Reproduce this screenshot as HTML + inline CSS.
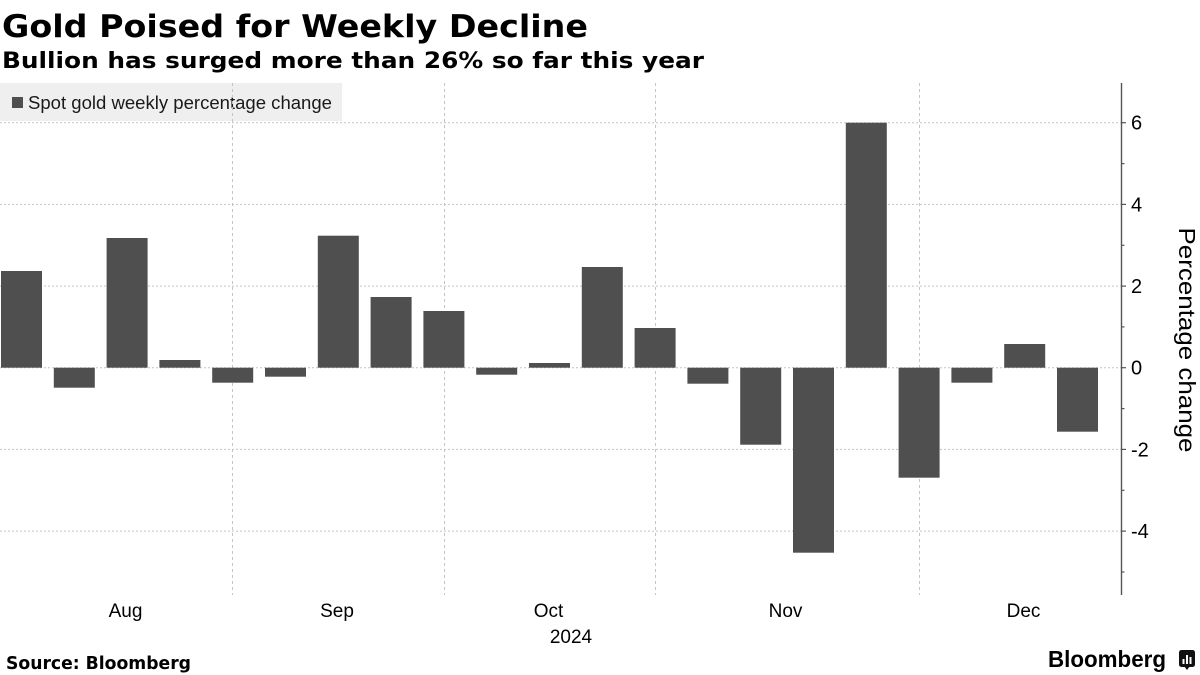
<!DOCTYPE html>
<html>
<head>
<meta charset="utf-8">
<style>
  html, body { margin: 0; padding: 0; background: #fff; }
  svg { display: block; }
</style>
</head>
<body>
<svg width="1200" height="675" viewBox="0 0 1200 675" xmlns="http://www.w3.org/2000/svg">
  <rect x="0" y="0" width="1200" height="675" fill="#ffffff"/>

  <!-- Title & subtitle -->
  <text x="2" y="37" font-family="'DejaVu Sans', 'Liberation Sans', sans-serif" font-weight="bold" font-size="31" fill="#000" textLength="586" lengthAdjust="spacingAndGlyphs">Gold Poised for Weekly Decline</text>
  <text x="2" y="68" font-family="'DejaVu Sans', 'Liberation Sans', sans-serif" font-weight="bold" font-size="22" fill="#000" textLength="702" lengthAdjust="spacingAndGlyphs">Bullion has surged more than 26% so far this year</text>

  <!-- Legend -->
  <rect x="0" y="83" width="342" height="38" fill="#efefef"/>
  <rect x="12" y="97" width="11" height="11" fill="#4f4f4f"/>
  <text x="28" y="109" font-family="'Liberation Sans', sans-serif" font-size="18" fill="#1a1a1a" textLength="304" lengthAdjust="spacingAndGlyphs">Spot gold weekly percentage change</text>

  <!-- Horizontal grid -->
  <g stroke="#c4c4c4" stroke-width="1" stroke-dasharray="2,2">
    <line x1="0" y1="122.7" x2="1121" y2="122.7"/>
    <line x1="0" y1="204.4" x2="1121" y2="204.4"/>
    <line x1="0" y1="286.1" x2="1121" y2="286.1"/>
    <line x1="0" y1="367.7" x2="1121" y2="367.7"/>
    <line x1="0" y1="449.4" x2="1121" y2="449.4"/>
    <line x1="0" y1="531.1" x2="1121" y2="531.1"/>
  </g>
  <!-- Vertical grid -->
  <g stroke="#c4c4c4" stroke-width="1" stroke-dasharray="3,3">
    <line x1="232.5" y1="83" x2="232.5" y2="595"/>
    <line x1="444.5" y1="83" x2="444.5" y2="595"/>
    <line x1="655.5" y1="83" x2="655.5" y2="595"/>
    <line x1="919.5" y1="83" x2="919.5" y2="595"/>
  </g>

  <!-- Bars -->
  <g fill="#4f4f4f">
    <rect x="1" y="271" width="41" height="96.7"/>
    <rect x="53.8" y="367.7" width="41" height="20"/>
    <rect x="106.6" y="238" width="41" height="129.7"/>
    <rect x="159.4" y="360" width="41" height="7.7"/>
    <rect x="212.2" y="367.7" width="41" height="15"/>
    <rect x="265" y="367.7" width="41" height="9"/>
    <rect x="317.8" y="235.7" width="41" height="132"/>
    <rect x="370.6" y="297" width="41" height="70.7"/>
    <rect x="423.4" y="311" width="41" height="56.7"/>
    <rect x="476.2" y="367.7" width="41" height="7"/>
    <rect x="529" y="363" width="41" height="4.7"/>
    <rect x="581.8" y="267" width="41" height="100.7"/>
    <rect x="634.6" y="328" width="41" height="39.7"/>
    <rect x="687.4" y="367.7" width="41" height="16"/>
    <rect x="740.2" y="367.7" width="41" height="77"/>
    <rect x="793" y="367.7" width="41" height="185"/>
    <rect x="845.8" y="122.7" width="41" height="245"/>
    <rect x="898.6" y="367.7" width="41" height="110"/>
    <rect x="951.4" y="367.7" width="41" height="15"/>
    <rect x="1004.2" y="344" width="41" height="23.7"/>
    <rect x="1057" y="367.7" width="41" height="64"/>
  </g>

  <!-- Right axis -->
  <line x1="1121.5" y1="83" x2="1121.5" y2="595" stroke="#555" stroke-width="1.4"/>
  <g stroke="#555" stroke-width="1.2">
    <line x1="1121" y1="122.7" x2="1126" y2="122.7"/>
    <line x1="1121" y1="204.4" x2="1126" y2="204.4"/>
    <line x1="1121" y1="286.1" x2="1126" y2="286.1"/>
    <line x1="1121" y1="367.7" x2="1126" y2="367.7"/>
    <line x1="1121" y1="449.4" x2="1126" y2="449.4"/>
    <line x1="1121" y1="531.1" x2="1126" y2="531.1"/>
    <line x1="1121" y1="163.6" x2="1124.5" y2="163.6"/>
    <line x1="1121" y1="245.3" x2="1124.5" y2="245.3"/>
    <line x1="1121" y1="326.9" x2="1124.5" y2="326.9"/>
    <line x1="1121" y1="408.6" x2="1124.5" y2="408.6"/>
    <line x1="1121" y1="490.3" x2="1124.5" y2="490.3"/>
    <line x1="1121" y1="572" x2="1124.5" y2="572"/>
  </g>
  <g font-family="'Liberation Sans', sans-serif" font-size="20" fill="#000">
    <text x="1131" y="129.7">6</text>
    <text x="1131" y="211.4">4</text>
    <text x="1131" y="293.1">2</text>
    <text x="1131" y="374.7">0</text>
    <text x="1131" y="456.4">-2</text>
    <text x="1131" y="538.1">-4</text>
  </g>
  <text transform="translate(1179,340) rotate(90)" x="0" y="0" text-anchor="middle" font-family="'Liberation Sans', sans-serif" font-size="23" fill="#000" textLength="225" lengthAdjust="spacingAndGlyphs">Percentage change</text>

  <!-- X labels -->
  <g font-family="'Liberation Sans', sans-serif" font-size="19" fill="#000" text-anchor="middle">
    <text x="125.5" y="617">Aug</text>
    <text x="337" y="617">Sep</text>
    <text x="548.5" y="617">Oct</text>
    <text x="785.5" y="617">Nov</text>
    <text x="1023.5" y="617">Dec</text>
    <text x="571" y="643">2024</text>
  </g>

  <!-- Footer -->
  <text x="6" y="669" font-family="'DejaVu Sans', 'Liberation Sans', sans-serif" font-weight="bold" font-size="18" fill="#000" textLength="185" lengthAdjust="spacingAndGlyphs">Source: Bloomberg</text>
  <text x="1048" y="667" font-family="'Liberation Sans', sans-serif" font-weight="bold" font-size="23" fill="#000" textLength="118" lengthAdjust="spacingAndGlyphs">Bloomberg</text>
  <g>
    <rect x="1179" y="650" width="16" height="17" rx="2.5" fill="#111"/>
    <polygon points="1184,666 1190,666 1187,670" fill="#111"/>
    <rect x="1182.5" y="659" width="2" height="5" fill="#fff"/>
    <rect x="1186" y="655" width="2" height="9" fill="#fff"/>
    <rect x="1189.5" y="657" width="2" height="7" fill="#fff"/>
  </g>
</svg>
</body>
</html>
